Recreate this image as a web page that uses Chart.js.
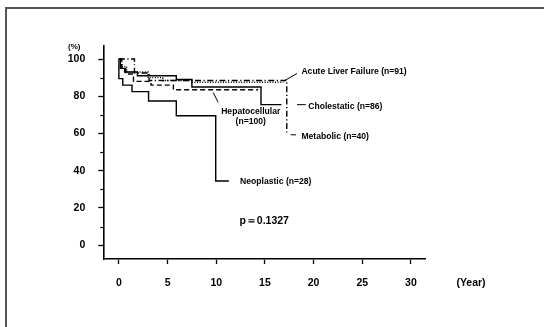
<!DOCTYPE html>
<html>
<head>
<meta charset="utf-8">
<script src="https://cdn.jsdelivr.net/npm/chart.js@4/dist/chart.umd.min.js"></script>
<style>
  html, body { margin: 0; padding: 0; background: #fff; }
  #wrap { position: relative; width: 544px; height: 327px; overflow: hidden; }
  #frame { position: absolute; left: 5px; top: 7px; width: 600px; height: 400px;
           border-top: 2px solid #555; border-left: 2px solid #555; }
  canvas { position: absolute; left: 0; top: 0; }
</style>
</head>
<body>
<div id="wrap">
  <div id="frame"></div>
  <canvas id="km" width="544" height="327"></canvas>
</div>
<script>
// Kaplan-Meier survival by aetiology (years, % surviving)
const xTicks = [0, 5, 10, 15, 20, 25, 30];
const yTicks = [0, 20, 40, 60, 80, 100];
const yMinorTicks = [10, 30, 50, 70, 90];

const acuteYears = [0, 0.3, 0.8, 3.0, 4.5, 7.5, 16.9];
const acuteSurv  = [100, 96, 93, 90, 88.5, 87.5, 87.5];

const cholYears = [0, 0.15, 0.6, 1.9, 5.9, 7.5, 14.6, 16.7];
const cholSurv  = [100, 95, 93, 91, 89, 85, 75.5, 75.5];

const hepaYears = [0, 0.3, 0.7, 1.5, 3.3, 5.6, 14.3];
const hepaSurv  = [100, 95, 92, 88, 86, 83.5, 83.5];

const metaYears = [0, 1.6, 3.1, 17.25, 17.35];
const metaSurv  = [100, 92.5, 88.5, 60, 60];

const neoYears = [0, 0, 0.4, 1.35, 3.05, 5.9, 9.95, 11.3];
const neoSurv  = [100, 89.5, 86, 82.5, 77.5, 69.5, 34.5, 34.5];

// leader lines from curve ends to their labels
const leaderAcute = [[16.95, 88.2], [18.3, 92.2]];
const leaderChol  = [[18.3, 75.5], [19.2, 75.5]];
const leaderHepa  = [[9.7, 82], [10.2, 76.7]];
const leaderMeta  = [[17.65, 59.3], [18.2, 59.3]];

const labels = [
  { text: 'Acute Liver Failure (n=91)', x: 18.75, y: 93.2, align: 'left' },
  { text: 'Cholestatic (n=86)', x: 19.45, y: 74.5, align: 'left' },
  { text: 'Hepatocellular', x: 13.55, y: 71.8, align: 'center' },
  { text: '(n=100)', x: 13.55, y: 66.5, align: 'center' },
  { text: 'Metabolic (n=40)', x: 18.75, y: 58.4, align: 'left' },
  { text: 'Neoplastic (n=28)', x: 12.45, y: 33.9, align: 'left' }
];
const pText = { text: 'p\uFF1D0.1327', x: 12.38, y: 13.1 };

const pts = (xs, ys) => xs.map((x, i) => ({ x, y: ys[i] }));
const seg = arr => arr.map(p => ({ x: p[0], y: p[1] }));

function curve(data, dash) {
  return { data, borderColor: '#000', borderWidth: 1.4, borderDash: dash,
           stepped: true, pointRadius: 0, fill: false };
}
function leader(data) {
  return { data: seg(data), borderColor: '#000', borderWidth: 1, pointRadius: 0, fill: false };
}

const annotate = {
  id: 'annotate',
  afterDraw(chart) {
    const { ctx, scales: { x, y } } = chart;
    ctx.save();
    // minor ticks on the y axis
    ctx.strokeStyle = '#000';
    ctx.lineWidth = 1.2;
    yMinorTicks.forEach(v => {
      const py = Math.round(y.getPixelForValue(v)) + 0.5;
      ctx.beginPath();
      ctx.moveTo(x.left - 3, py);
      ctx.lineTo(x.left, py);
      ctx.stroke();
    });
    ctx.fillStyle = '#000';
    ctx.textBaseline = 'middle';
    ctx.font = 'bold 8.6px "Liberation Sans", Arial, sans-serif';
    labels.forEach(l => {
      ctx.textAlign = l.align;
      ctx.fillText(l.text, x.getPixelForValue(l.x), y.getPixelForValue(l.y));
    });
    ctx.textAlign = 'left';
    ctx.font = 'bold 10.5px "Liberation Sans", Arial, sans-serif';
    ctx.fillText(pText.text, x.getPixelForValue(pText.x), y.getPixelForValue(pText.y));
    // axis unit labels
    ctx.font = 'bold 8px "Liberation Sans", Arial, sans-serif';
    ctx.textAlign = 'center';
    ctx.fillText('(%)', x.left - 29, y.top + 1);
    ctx.font = 'bold 10.5px "Liberation Sans", Arial, sans-serif';
    ctx.fillText('(Year)', 471, y.bottom + 24);
    ctx.restore();
  }
};

const tickFont = { family: '"Liberation Sans", Arial, sans-serif', size: 10.5, weight: 'bold' };

new Chart(document.getElementById('km'), {
  type: 'line',
  data: {
    datasets: [
      curve(pts(acuteYears, acuteSurv), [1, 1.6]),
      curve(pts(cholYears, cholSurv), []),
      curve(pts(hepaYears, hepaSurv), [5, 3]),
      curve(pts(metaYears, metaSurv), [6, 2.5, 1.2, 2.5]),
      curve(pts(neoYears, neoSurv), []),
      leader(leaderAcute),
      leader(leaderChol),
      leader(leaderHepa),
      leader(leaderMeta)
    ]
  },
  options: {
    responsive: false,
    animation: false,
    devicePixelRatio: 1,
    layout: { padding: { left: 0, top: 46, right: 118.5, bottom: 0 } },
    plugins: { legend: { display: false }, tooltip: { enabled: false } },
    scales: {
      x: {
        type: 'linear', min: -1.6, max: 31.5,
        afterBuildTicks: s => { s.ticks = xTicks.map(v => ({ value: v })); },
        afterFit: s => { s.height = 68; },
        grid: { drawOnChartArea: false, tickLength: 5, tickColor: '#000', tickWidth: 1.3 },
        border: { color: '#000', width: 1.6 },
        ticks: { color: '#000', font: tickFont, padding: 13, maxRotation: 0 }
      },
      y: {
        type: 'linear', min: -7.4, max: 107,
        afterBuildTicks: s => { s.ticks = yTicks.map(v => ({ value: v })); },
        afterFit: s => { s.width = 103.3; },
        grid: { drawOnChartArea: false, tickLength: 5, tickColor: '#000', tickWidth: 1.3 },
        border: { color: '#000', width: 1.6 },
        ticks: { color: '#000', font: tickFont, padding: 13 }
      }
    }
  },
  plugins: [annotate]
});
</script>
</body>
</html>
